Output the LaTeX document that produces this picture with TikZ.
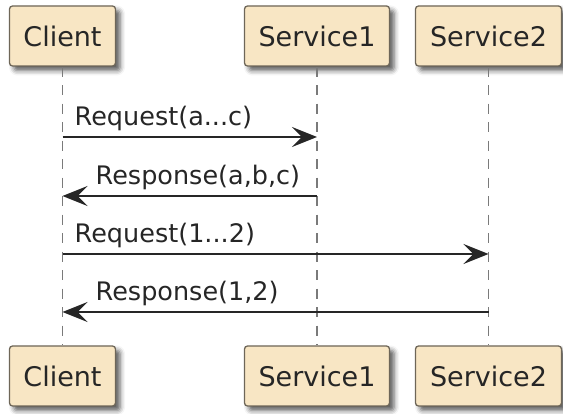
\documentclass[tikz,border=0pt]{standalone}
\usepackage{fontspec}
\setmainfont{DejaVu Sans}
\usetikzlibrary{arrows.meta,shadows.blur}
\definecolor{boxfill}{HTML}{F8E6C4}
\definecolor{boxline}{HTML}{6E6658}
\definecolor{inkc}{HTML}{262626}
\definecolor{lifec}{HTML}{7A7A7A}
\begin{document}
\begin{tikzpicture}[x=1pt,y=-1pt,
  part/.style={draw=boxline, line width=1.3pt, fill=boxfill, rounded corners=3pt,
    minimum height=60pt, inner sep=0pt, font=\fontsize{27}{30}\selectfont, text=inkc,
    blur shadow={shadow xshift=4.5pt, shadow yshift=-4.5pt, shadow blur radius=5pt, shadow opacity=65}},
  life/.style={draw=lifec, line width=1.3pt, dash pattern=on 10pt off 8.5pt},
  msg/.style={draw=inkc, line width=1.6pt, -{Stealth[length=25pt, width=20pt, inset=10pt]}},
  lbl/.style={anchor=base west, inner sep=0pt, font=\fontsize{25.5}{28}\selectfont, text=inkc}]
\useasboundingbox (0,0) rectangle (563,414);
% participants top
\node[part, minimum width=106pt] (ct) at (62.5,36) {Client};
\node[part, minimum width=145pt] (s1t) at (317,36) {Service1};
\node[part, minimum width=146pt] (s2t) at (488.5,36) {Service2};
% participants bottom
\node[part, minimum width=106pt] (cb) at (62.5,376) {Client};
\node[part, minimum width=145pt] (s1b) at (317,376) {Service1};
\node[part, minimum width=146pt] (s2b) at (488.5,376) {Service2};
% lifelines
\draw[life] (ct.south) -- (cb.north);
\draw[life] (s1t.south) -- (s1b.north);
\draw[life] (s2t.south) -- (s2b.north);
% message points
\coordinate (c1) at (ct.south |- 0,137);
\coordinate (a1) at (s1t.south |- 0,137);
\coordinate (c2) at (ct.south |- 0,196);
\coordinate (a2) at (s1t.south |- 0,196);
\coordinate (c3) at (ct.south |- 0,254);
\coordinate (a3) at (s2t.south |- 0,254);
\coordinate (c4) at (ct.south |- 0,312);
\coordinate (a4) at (s2t.south |- 0,312);
% messages
\draw[msg] (c1) -- (a1);
\draw[msg] (a2) -- (c2);
\draw[msg] (c3) -- (a3);
\draw[msg] (a4) -- (c4);
\node[lbl] (l1) at (74.5,126) {Request(a...c)};
\node[lbl] (l2) at (95.5,185) {Response(a,b,c)};
\node[lbl] (l3) at (74.5,243) {Request(1...2)};
\node[lbl] (l4) at (95.5,301) {Response(1,2)};
\end{tikzpicture}
\end{document}
